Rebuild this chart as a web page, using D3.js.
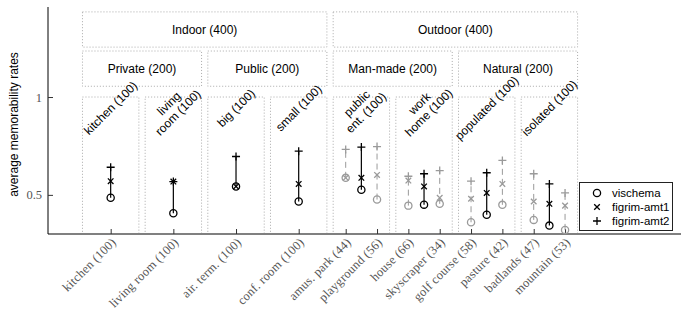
<!DOCTYPE html>
<html><head><meta charset="utf-8">
<script src="https://cdn.jsdelivr.net/npm/d3@7"></script>
<style>body{margin:0;background:#fff}</style>
</head><body><svg id="c" width="683" height="312"></svg>
<script>
// ---- data ----
const fineLabels = ["kitchen (100)","living room (100)","air. term. (100)","conf. room (100)","amus. park (44)","playground (56)","house (66)","skyscraper (34)","golf course (58)","pasture (42)","badlands (47)","mountain (53)"];
const finePos = [0,2,4,6,7.5,8.5,9.5,10.5,11.5,12.5,13.5,14.5];
const fineVischema = [0.485,0.406,0.543,0.466,0.587,0.476,0.445,0.454,0.360,0.449,0.372,0.321];
const fineAmt1     = [0.570,0.568,0.543,0.556,0.587,0.602,0.573,0.485,0.480,0.556,0.466,0.445];
const fineAmt2     = [0.641,0.568,0.696,0.723,0.732,0.747,0.595,0.624,0.570,0.676,0.608,0.510];
const fineIsAggregate = [true,true,true,true,false,false,false,false,false,false,false,false];
const aggPos = [8,10,12,14];
const aggVischema = [0.526,0.450,0.398,0.343];
const aggAmt1     = [0.587,0.543,0.510,0.454];
const aggAmt2     = [0.744,0.608,0.613,0.556];
const subLabels = [["kitchen (100)"],["living","room (100)"],["big (100)"],["small (100)"],["public","ent. (100)"],["work","home (100)"],["populated (100)"],["isolated (100)"]];
const subPos = [0,2,4,6,8,10,12,14];
const midLabels = ["Private (200)","Public (200)","Man-made (200)","Natural (200)"];
const midPos = [1,5,9,13];
const topLabels = ["Indoor (400)","Outdoor (400)"];
const topPos = [3,11];
const yTicks = [0.5,1];
const yTickLabels = ["0.5","1"];
const seriesNames = ["vischema","figrim-amt1","figrim-amt2"];

// ---- layout ----
const svg = d3.select("#c");
const L = 48, R = 681, T = 7, B = 234;
const x = d3.scaleLinear().domain([-2, 18.2]).range([L, R]);
const y = d3.scaleLinear().domain([0.3, 1.46]).range([B, T]);
const SANS = "'Liberation Sans', Arial, sans-serif";
const SERIF = "'Liberation Serif', 'DejaVu Serif', serif";
const GRAY = "#9a9a9a";

// boxes
function box(cx, hw, y0, y1) {
  svg.append("rect")
    .attr("x", x(cx - hw)).attr("y", y(y1))
    .attr("width", x(cx + hw) - x(cx - hw)).attr("height", y(y0) - y(y1))
    .attr("fill", "none").attr("stroke", "#aaa").attr("stroke-width", 1)
    .attr("stroke-dasharray", "1,2");
}
topPos.forEach((p, i) => {
  box(p, 3.9, 1.255, 1.435);
  svg.append("text").attr("x", x(p)).attr("y", y(1.345)).attr("dy", "0.35em")
    .attr("text-anchor", "middle").attr("font-family", SANS).attr("font-size", 12)
    .text(topLabels[i]);
});
midPos.forEach((p, i) => {
  box(p, 1.9, 1.055, 1.235);
  svg.append("text").attr("x", x(p)).attr("y", y(1.145)).attr("dy", "0.35em")
    .attr("text-anchor", "middle").attr("font-family", SANS).attr("font-size", 12)
    .text(midLabels[i]);
});
subPos.forEach((p, i) => {
  box(p, 0.9, 0.3, 1.0);
  const lines = subLabels[i];
  const cx = x(p), cy = 108;
  const t = svg.append("text").attr("transform", `translate(${cx},${cy}) rotate(-45)`)
    .attr("text-anchor", "middle").attr("font-family", SANS).attr("font-size", 12);
  lines.forEach((ln, j) => {
    const off = (j - (lines.length - 1) / 2) * 13;
    t.append("tspan").attr("x", 0).attr("y", off).attr("dy", "0.35em").text(ln);
  });
});

// axes
const xAxis = svg.append("g").attr("transform", `translate(0,${B})`)
  .call(d3.axisBottom(x).tickValues(finePos).tickSize(-5).tickFormat(""));
xAxis.select(".domain").attr("stroke", "#808080").attr("stroke-width", 2).attr("d", `M${L},0H${R}`);
xAxis.selectAll(".tick line").attr("stroke", "#333");
const yAxis = svg.append("g").attr("transform", `translate(${L},0)`)
  .call(d3.axisLeft(y).tickValues(yTicks).tickSize(-5).tickFormat((d, i) => yTickLabels[i]));
yAxis.select(".domain").attr("stroke", "#000").attr("d", `M0,${B}V${T}`);
yAxis.selectAll(".tick text").attr("font-family", SERIF).attr("font-size", 12.5).attr("fill", "#555").attr("x", -6);
yAxis.selectAll(".tick line").attr("stroke", "#333");

// x tick labels
svg.append("g").selectAll("text").data(finePos).join("text")
  .attr("transform", d => `translate(${x(d) + 3},${B + 6}) rotate(-45)`)
  .attr("text-anchor", "end").attr("dy", "0.35em")
  .attr("font-family", SERIF).attr("font-size", 12.5).attr("letter-spacing", 0.2).attr("fill", "#555")
  .text((d, i) => fineLabels[i]);

// y label
svg.append("text").attr("transform", `translate(14,${(T + B) / 2 + 4}) rotate(-90)`)
  .attr("text-anchor", "middle").attr("dy", "0.35em")
  .attr("font-family", SANS).attr("font-size", 12).text("average memorability rates");

// markers
function marker(g, type, cx, cy, color) {
  if (type === 0) g.append("circle").attr("cx", cx).attr("cy", cy).attr("r", 3.6)
    .attr("fill", "none").attr("stroke", color).attr("stroke-width", 1.3);
  else if (type === 1) g.append("path").attr("d", `M${cx-2.8},${cy-2.8}L${cx+2.8},${cy+2.8}M${cx-2.8},${cy+2.8}L${cx+2.8},${cy-2.8}`)
    .attr("stroke", color).attr("stroke-width", 1.3);
  else g.append("path").attr("d", `M${cx-4},${cy}H${cx+4}M${cx},${cy-4}V${cy+4}`)
    .attr("stroke", color).attr("stroke-width", 1.3);
}
const marks = svg.append("g");
function drawGroup(pos, v0, v1, v2, black) {
  const color = black ? "#000" : GRAY;
  const lo = Math.min(v0, v1, v2), hi = Math.max(v0, v1, v2);
  marks.append("line").attr("x1", x(pos)).attr("x2", x(pos)).attr("y1", y(lo)).attr("y2", y(hi))
    .attr("stroke", color).attr("stroke-width", black ? 1.2 : 1)
    .attr("stroke-dasharray", black ? null : "6,4");
  marker(marks, 0, x(pos), y(v0), color);
  marker(marks, 1, x(pos), y(v1), color);
  marker(marks, 2, x(pos), y(v2), color);
}
finePos.forEach((p, i) => drawGroup(p, fineVischema[i], fineAmt1[i], fineAmt2[i], fineIsAggregate[i]));
aggPos.forEach((p, i) => drawGroup(p, aggVischema[i], aggAmt1[i], aggAmt2[i], true));

// legend
const lg = svg.append("g");
lg.append("rect").attr("x", 579.5).attr("y", 182.5).attr("width", 93).attr("height", 48)
  .attr("fill", "#fff").attr("stroke", "#222").attr("stroke-width", 1);
seriesNames.forEach((s, i) => {
  const ly = 193 + i * 14;
  marker(lg, i, 597, ly, "#000");
  lg.append("text").attr("x", 612).attr("y", ly).attr("dy", "0.35em")
    .attr("font-family", SANS).attr("font-size", 11.5).text(s);
});
</script></body></html>
